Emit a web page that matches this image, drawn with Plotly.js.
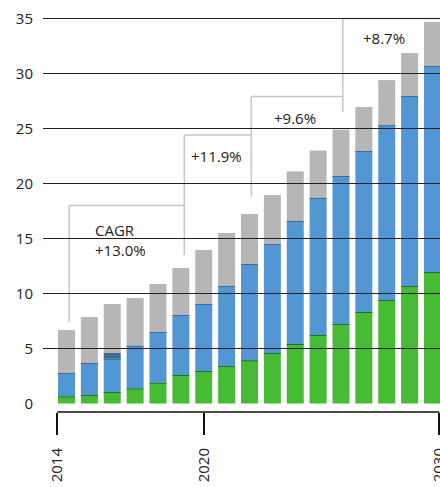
<!DOCTYPE html>
<html>
<head>
<meta charset="utf-8">
<script src="https://cdn.plot.ly/plotly-3.0.1.min.js"></script>
<style>html,body{margin:0;padding:0;background:#fff;}#chart{width:440px;height:487px;}</style>
</head>
<body>
<div id="chart"></div>
<script>
// ---- data ----
const years = [2014,2015,2016,2017,2018,2019,2020,2021,2022,2023,2024,2025,2026,2027,2028,2029,2030];
const green = [0.65,0.77,1.05,1.38,1.89,2.59,2.95,3.41,3.93,4.59,5.41,6.23,7.23,8.32,9.41,10.68,11.95];
const blue  = [2.12,2.91,3.02,3.87,4.61,5.46,6.10,7.27,8.75,9.91,11.19,12.45,13.45,14.63,15.89,17.27,18.73];
const slate = [0,0,0.52,0,0,0,0,0,0,0,0,0,0,0,0,0,0];
const gray  = [3.91,4.18,4.46,4.34,4.36,4.27,4.90,4.82,4.55,4.45,4.50,4.32,4.22,4.00,4.10,3.91,4.00];

const yTicks = [0,5,10,15,20,25,30,35];
const gridVals = [5,10,15,20,25,30,35];
const xTickVals = [2013.6, 2020, 2030.3];
const xTickText = ['2014','2020','2030'];

// CAGR brackets
const cagrText   = ['CAGR<br>+13.0%', '+11.9%', '+9.6%', '+8.7%'];
const brStart    = [2014.12, 2019.15, 2022.08, 2026.08];
const brEnd      = [2019.15, 2022.08, 2026.08, 2030.4];
const brTop      = [18.0, 24.4, 27.9, 35.0];
const brLeftBot  = [7.4, 18.0, 24.4, 27.9];
const brRightBot = [13.5, 18.8, 26.5, null];
const lblX       = [2015.15, 2019.35, 2022.97, 2026.87];
const lblY       = [14.9, 22.5, 25.95, 33.2];

// ---- build ----
const C = {green:'#45BC33', blue:'#5296D3', slate:'#3E6A94', gray:'#B6B6B6',
           greenEdge:'#23702B', blueEdge:'#3B6C9B', grid:'#222', bracket:'#C6C6C6', text:'#222'};
const FONT = 'Open Sans, sans-serif';

const b1 = green.map(()=>0);
const b2 = green.slice();
const b3 = green.map((g,i)=>g+blue[i]);
const b4 = b3.map((v,i)=>v+slate[i]);
const edge = 0.09;

function barTrace(y, base, color){
  return {type:'bar', x:years, y:y, base:base, marker:{color:color, line:{width:0}}, hoverinfo:'skip', showlegend:false};
}
const traces = [
  barTrace(green, b1, C.green),
  barTrace(blue, b2, C.blue),
  barTrace(slate, b3, C.slate),
  barTrace(gray, b4, C.gray),
  barTrace(green.map(()=>edge), b2.map(v=>v-edge), C.greenEdge),
  barTrace(blue.map(()=>edge), b3.map(v=>v-edge), C.blueEdge)
];

const shapes = [];
gridVals.forEach(v=>shapes.push({type:'line', xref:'paper', x0:0, x1:1, yref:'y', y0:v, y1:v,
  line:{color:C.grid, width:1}, layer:'above'}));
// x axis bracket line
shapes.push({type:'line', xref:'x', x0:xTickVals[0], x1:xTickVals[xTickVals.length-1], yref:'paper', y0:0, y1:0,
  line:{color:'#111', width:1.5}, layer:'above'});
// CAGR brackets
for(let i=0;i<brStart.length;i++){
  const ln = {color:C.bracket, width:1.5};
  shapes.push({type:'line', xref:'x', yref:'y', x0:brStart[i], x1:brStart[i], y0:brLeftBot[i], y1:brTop[i], line:ln, layer:'below'});
  shapes.push({type:'line', xref:'x', yref:'y', x0:brStart[i], x1:brEnd[i], y0:brTop[i], y1:brTop[i], line:ln, layer:'below'});
  if(brRightBot[i]!==null){
    shapes.push({type:'line', xref:'x', yref:'y', x0:brEnd[i], x1:brEnd[i], y0:brRightBot[i], y1:brTop[i], line:ln, layer:'below'});
  }
}
const annotations = cagrText.map((t,i)=>({x:lblX[i], y:lblY[i], xref:'x', yref:'y', text:t, showarrow:false,
  xanchor:'left', yanchor:'middle', align:'left', font:{family:FONT, size:15, color:C.text}}));

const layout = {
  width:440, height:487,
  margin:{l:43, r:0, t:8, b:75, pad:0},
  paper_bgcolor:'#fff', plot_bgcolor:'#fff',
  barmode:'overlay', bargap:0.257,
  font:{family:FONT, size:15, color:C.text},
  showlegend:false,
  xaxis:{range:[2012.973, 2030.328], tickvals:xTickVals, ticktext:xTickText, tickangle:-90,
    ticks:'outside', ticklen:22, tickwidth:2, tickcolor:'#111', showgrid:false, zeroline:false, showline:false,
    tickfont:{family:FONT, size:15, color:C.text}, ticklabelstandoff:7, ticklabeloverflow:'allow',
    automargin:false, fixedrange:true},
  yaxis:{range:[-0.773, 35.955], tickvals:yTicks, showgrid:false, zeroline:false, showline:false, ticks:'',
    tickfont:{family:FONT, size:15, color:C.text}, ticklabelstandoff:9, automargin:false, fixedrange:true},
  shapes:shapes, annotations:annotations
};
Plotly.newPlot('chart', traces, layout, {displayModeBar:false, staticPlot:true});
</script>
</body>
</html>
